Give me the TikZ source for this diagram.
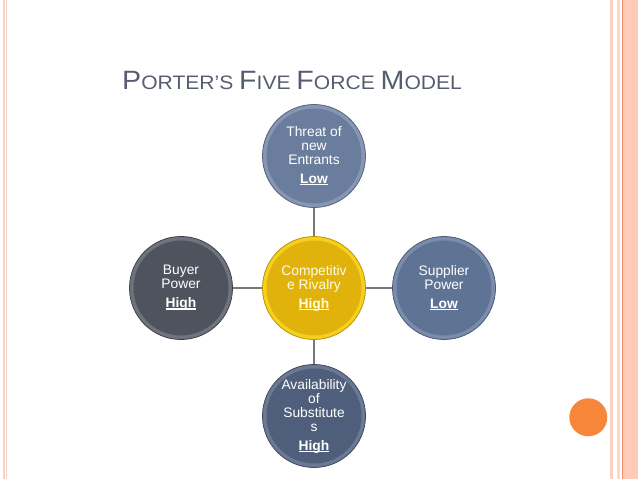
\documentclass[tikz,border=0pt]{standalone}
\usepackage{fontspec}
\setmainfont{Liberation Sans}
\newcommand\ulab[1]{\setbox0=\hbox{\bfseries #1}\rlap{\rule[-1.8pt]{\wd0}{1.1pt}}\box0}
\begin{document}
\begin{tikzpicture}[x=1pt,y=-1pt,
  ring/.style n args={3}{circle, minimum size=103pt, inner sep=0pt, fill=#2, draw=#3, line width=0.8pt,
    path picture={\fill[#1] (path picture bounding box.center) circle (47.5pt);},
    text=white, align=center, font=\fontsize{13.8}{14}\selectfont},
  conn/.style={draw=gray!95!black, line width=1.5pt}]
\useasboundingbox (0,0) rectangle (638,479);
\definecolor{topm}{HTML}{6B7D9D}\definecolor{topr}{HTML}{8797B3}\definecolor{tope}{HTML}{55647E}
\definecolor{buym}{HTML}{4E535D}\definecolor{buyr}{HTML}{6E737D}\definecolor{buye}{HTML}{3C4048}
\definecolor{cenm}{HTML}{E2B20C}\definecolor{cenr}{HTML}{F4D020}\definecolor{cene}{HTML}{C09400}
\definecolor{supm}{HTML}{5F7395}\definecolor{supr}{HTML}{7B8DAB}\definecolor{supe}{HTML}{4A5B78}
\definecolor{botm}{HTML}{4F5E7A}\definecolor{botr}{HTML}{6B7994}\definecolor{bote}{HTML}{3E4A62}
\definecolor{titlec}{HTML}{565D6E}
\definecolor{stripe}{HTML}{F7D2C2}
\definecolor{fillr}{HTML}{FFCBB8}
\definecolor{darkr}{HTML}{F09068}
\definecolor{orng}{HTML}{F7863A}
% page decorations
\fill[stripe] (3,0) rectangle (4.8,479);
\fill[stripe] (5.8,0) rectangle (7.3,479);
\fill[stripe] (610,0) rectangle (612.8,479);
\fill[fillr!80!white] (617,0) rectangle (620,479);
\fill[fillr] (622.5,0) rectangle (638,479);
\draw[darkr, line width=0.9pt] (622.2,0) -- (622.2,479);
\node[circle, fill=orng, minimum size=38pt, inner sep=0pt] (dot) at (588.3,417.3) {};
% title
\node[anchor=base west, inner sep=0pt, text=titlec, xscale=1.08] (title) at (122,89.3)
  {\fontsize{26.5}{30}\selectfont P\fontsize{19.5}{22}\selectfont ORTER’S
   \fontsize{26.5}{30}\selectfont F\fontsize{19.5}{22}\selectfont IVE
   \fontsize{26.5}{30}\selectfont F\fontsize{19.5}{22}\selectfont ORCE
   \fontsize{26.5}{30}\selectfont M\fontsize{19.5}{22}\selectfont ODEL};
% circles
\node[ring={topm}{topr}{tope}] (threat) at (314,156)
  {Threat of\\new\\Entrants\\[5pt]\ulab{Low}};
\node[ring={buym}{buyr}{buye}] (buyer) at (181,288)
  {Buyer\\Power\\[5pt]\ulab{High}};
\node[ring={cenm}{cenr}{cene}, text=yellow!12!white] (rivalry) at (314,288)
  {Competitiv\\e Rivalry\\[5pt]\ulab{High}};
\node[ring={supm}{supr}{supe}] (supplier) at (444,288)
  {Supplier\\Power\\[5pt]\ulab{Low}};
\node[ring={botm}{botr}{bote}] (subst) at (314,416)
  {Availability\\of\\Substitute\\s\\[5pt]\ulab{High}};
% connectors
\draw[conn] (threat) -- (rivalry);
\draw[conn] (rivalry) -- (subst);
\draw[conn] (buyer) -- (rivalry);
\draw[conn] (rivalry) -- (supplier);
\end{tikzpicture}
\end{document}
